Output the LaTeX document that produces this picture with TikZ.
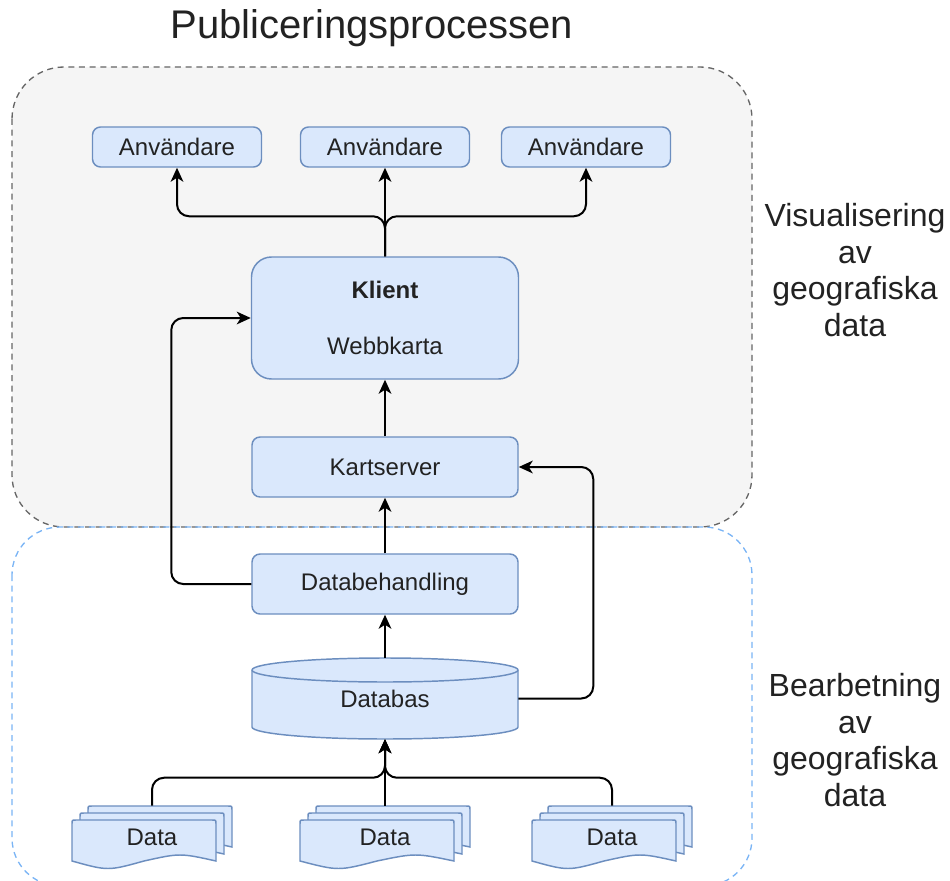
\documentclass[tikz,border=0pt]{standalone}
\usepackage{fontspec}
\setmainfont{Liberation Sans}
\usetikzlibrary{arrows.meta}
\definecolor{boxfill}{HTML}{DAE8FC}
\definecolor{boxline}{HTML}{6C8EBF}
\definecolor{grayfill}{HTML}{F5F5F5}
\definecolor{grayline}{HTML}{666666}
\definecolor{blueline}{HTML}{7AB4F5}
\definecolor{txt}{HTML}{222222}
\newcommand{\mydocsheet}[4]{%
 \filldraw[sheet] (#1,#2+#4-7) -- (#1,#2+4) .. controls (#1,#2) .. (#1+4,#2) -- (#1+#3-4,#2) .. controls (#1+#3,#2) .. (#1+#3,#2+4) -- (#1+#3,#2+#4-7) .. controls (#1+0.75*#3,#2+#4-15) .. (#1+0.5*#3,#2+#4-7) .. controls (#1+0.25*#3,#2+#4+3) .. (#1,#2+#4-7) -- cycle;}
\newcommand{\mymultidoc}[4]{%
 \mydocsheet{#1+16}{#2}{#3}{#4}\mydocsheet{#1+8}{#2+7}{#3}{#4}\mydocsheet{#1}{#2+14}{#3}{#4}}
\begin{document}
\begin{tikzpicture}[x=0.75pt,y=-0.75pt,
  sheet/.style={draw=boxline, fill=boxfill, line width=1.1pt},
  box/.style={draw=boxline, fill=boxfill, line width=1.1pt, rounded corners=6pt,
    font=\fontsize{18}{21}\selectfont, text=txt, inner sep=0pt},
  plain/.style={font=\fontsize{18}{21}\selectfont, text=txt, inner sep=0pt},
  side/.style={font=\fontsize{24}{27.5}\selectfont, text=txt, align=center, inner sep=0pt},
  conn/.style={line width=1.5pt, draw=black, rounded corners=9pt,
    -{Stealth[length=10.5pt,width=9.5pt,inset=3pt]}},
  region/.style={line width=1pt, dash pattern=on 4.5pt off 3.5pt}
]
\useasboundingbox (0,0) rectangle (950,881);
\clip (0,0) rectangle (950,881);

% regions
\draw[region, draw=grayline, fill=grayfill, rounded corners=39pt] (12,67) rectangle (752,527);
\draw[region, draw=blueline, rounded corners=36pt] (12,527) rectangle (752,886);

% title and side labels
\node[font=\fontsize{30}{36}\selectfont, text=txt, inner sep=0pt] (title) at (372,28) {Publiceringsprocessen};
\node[side] (vis) at (855,270) {Visualisering\\av\\geografiska\\data};
\node[side] (bea) at (855,740) {Bearbetning\\av\\geografiska\\data};

% users
\node[box, minimum width=126.75pt, minimum height=30pt] (a1) at (177,147) {Användare};
\node[box, minimum width=126.75pt, minimum height=30pt] (a2) at (385,147) {Användare};
\node[box, minimum width=126.75pt, minimum height=30pt] (a3) at (586,147) {Användare};

% client
\node[box, minimum width=200.25pt, minimum height=91.5pt, rounded corners=15pt, align=center] (klient) at (385,318) {\textbf{Klient}\\[21pt]Webbkarta};

% map server, processing
\node[box, minimum width=199.5pt, minimum height=45pt] (kart) at (385,467) {Kartserver};
\node[box, minimum width=199.5pt, minimum height=45pt] (dbh) at (385,584) {Databehandling};

% database cylinder
\path[sheet] (252,670) -- (252,727) arc[start angle=180, end angle=360, x radius=99.75pt, y radius=9pt]
  -- (518,670) arc[start angle=0, end angle=180, x radius=99.75pt, y radius=9pt] -- cycle;
\draw[boxline, line width=1.1pt] (252,670) arc[start angle=180, end angle=360, x radius=99.75pt, y radius=9pt];
\node[plain, minimum width=199.5pt, minimum height=60.75pt] (db) at (385,698.5) {Databas};

% data documents
\mymultidoc{72}{806}{144}{48}
\mymultidoc{300}{806}{154}{48}
\mymultidoc{532}{806}{144}{48}
\node[plain, minimum width=120pt, minimum height=46.5pt] (d1) at (152,837) {Data};
\node[plain, minimum width=127.5pt, minimum height=46.5pt] (d2) at (385,837) {Data};
\node[plain, minimum width=120pt, minimum height=46.5pt] (d3) at (612,837) {Data};

% connectors
\draw[conn] (klient.north) -- ++(0,-40) -| (a1.south);
\draw[conn] (klient.north) -- (a2.south);
\draw[conn] (klient.north) -- ++(0,-40) -| (a3.south);
\draw[conn] (kart.north) -- (klient.south);
\draw[conn] (dbh.north) -- (kart.south);
\draw[conn] (dbh.west) -- ++(-80,0) |- (klient.west);
\draw[conn] (db.north) -- (dbh.south);
\draw[conn] (db.east) -- ++(75,0) |- (kart.east);
\draw[conn] (d1.north) -- ++(0,-28) -| (db.south);
\draw[conn] (d2.north) -- (db.south);
\draw[conn] (d3.north) -- ++(0,-28) -| (db.south);
\end{tikzpicture}
\end{document}
